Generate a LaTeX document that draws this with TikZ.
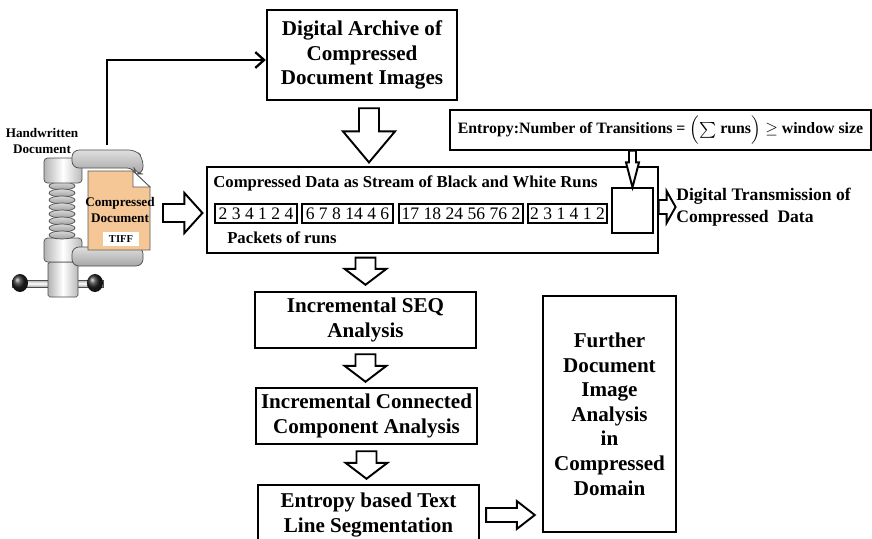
\documentclass[tikz,border=0pt]{standalone}
\usepackage{amsmath}
\usepackage{fontspec}
\setmainfont{Liberation Serif}
\usetikzlibrary{calc,arrows.meta}
\definecolor{filepeach}{HTML}{F6C796}

% hollow block arrow: start, tip, shaft half width, head half width, head length
\newcommand{\hollowarrow}[5]{%
  \coordinate (ha-base) at ($(#2)!#5!(#1)$);
  \draw[hollow] ($(#1)!#3!90:(#2)$) -- ($(ha-base)!#3!90:(#2)$)
    -- ($(ha-base)!#4!90:(#2)$) -- (#2) -- ($(ha-base)!#4!-90:(#2)$)
    -- ($(ha-base)!#3!-90:(#2)$) -- ($(#1)!#3!-90:(#2)$) -- cycle;
}

\begin{document}
\begin{tikzpicture}[x=0.02cm,y=-0.02cm,
  box/.style={draw, line width=1.4pt, align=center, inner sep=0pt,
    font=\fontsize{12}{14}\selectfont\bfseries},
  thinbox/.style={draw, line width=0.7pt, inner sep=0pt},
  packet/.style={draw, line width=0.9pt, inner sep=0pt, minimum height=0.38cm,
    font=\fontsize{10}{12}\selectfont},
  hollow/.style={draw, line width=1.1pt, fill=white, line join=miter},
  feed/.style={line width=1.3pt, -{Straight Barb[length=5pt,width=9pt]}},
  steel/.style={draw=gray!60!black, line width=0.4pt}]
  \useasboundingbox (0,0) rectangle (872,538);
  \clip (0,0) rectangle (872,538);

  % Clamp squeezing the document
  \begin{scope}
    % handle and knobs
    \shade[steel, top color=gray!70, bottom color=gray!70, middle color=white] (12,280) rectangle (103,287);
    \shade[ball color=black!85] (20,283) ellipse (0.16cm and 0.18cm);
    \shade[ball color=black!85] (95,283) ellipse (0.16cm and 0.18cm);
    % screw post and collars
    \shade[steel, rounded corners=1pt, left color=gray!60, right color=gray!55, middle color=white] (48,262) rectangle (78,297);
    \shade[steel, rounded corners=2pt, left color=gray!60, right color=gray!55, middle color=white] (44,238) rectangle (82,262);
    \foreach \y in {186,193,...,235}
      \shade[steel, top color=gray!30, bottom color=gray!75] (62,\y) ellipse (0.26cm and 0.08cm);
    \shade[steel, rounded corners=2pt, left color=gray!60, right color=gray!55, middle color=white] (44,158) rectangle (82,183);
    % jaws
    \shade[steel, rounded corners=4pt, top color=gray!25, bottom color=gray!70] (72,150) -- (136,150) -- (143,158) -- (143,174) -- (136,174) -- (134,168) -- (72,168) -- cycle;
    \shade[steel, rounded corners=4pt, top color=gray!25, bottom color=gray!70] (72,247) rectangle (143,266);
    % compressed file
    \draw[fill=filepeach, draw=gray!70!black, line width=0.5pt] (88,171) -- (133,171) -- (150,187) -- (150,250) -- (88,250) -- cycle;
    \draw[fill=white, draw=gray!70!black, line width=0.5pt] (133,171) -- (133,187) -- (150,187) -- cycle;
    \node[align=center, font=\fontsize{7.5}{9}\selectfont\bfseries] (cdoc) at (120,210) {Compressed\\Document};
    \node[fill=white, inner sep=1pt, minimum width=0.72cm, minimum height=0.28cm,
      font=\fontsize{6}{7}\selectfont\bfseries] (tiff) at (121,239) {TIFF};
  \end{scope}
  \node[align=center, font=\fontsize{7.5}{9}\selectfont\bfseries] (hw) at (42,141) {Handwritten\\Document};
  \coordinate (hwout) at (107,145);
  \coordinate (clampout) at (163,213);

  % Archive and stream of runs
  \node[box, minimum width=3.8cm, minimum height=1.8cm] (archive) at (362,55)
    {Digital Archive of\\Compressed\\Document Images};
  \node[thinbox, minimum width=9.02cm, minimum height=1.72cm] (data) at (432.5,210) {};
  \node[anchor=west, inner sep=0pt, font=\fontsize{9.5}{11}\selectfont\bfseries] (datatitle) at (213,183)
    {Compressed Data as Stream of Black and White Runs};
  \node[packet, minimum width=1.64cm] (p1) at (256,213.5) {2 3 4 1 2 4};
  \node[packet, minimum width=1.82cm] (p2) at (347.5,213.5) {6 7 8 14 4 6};
  \node[packet, minimum width=2.48cm] (p3) at (461,213.5) {17 18 24 56 76 2};
  \node[packet, minimum width=1.58cm] (p4) at (567.5,213.5) {2 3 1 4 1 2};
  \node[inner sep=0pt, font=\fontsize{9.5}{11}\selectfont\bfseries] (plabel) at (282,238) {Packets of runs};
  \node[thinbox, minimum width=0.82cm, minimum height=0.9cm] (sq) at (632.5,210.5) {};

  % Entropy rule and transmission
  \node[thinbox, minimum width=8.42cm, minimum height=0.8cm, font=\fontsize{9}{11}\selectfont\bfseries] (entropy) at (660.5,130)
    {Entropy:Number of Transitions = $\Bigl(\sum$ runs$\Bigr) \geq$ window size};
  \node[anchor=west, align=left, inner sep=0pt, font=\fontsize{10}{12.5}\selectfont\bfseries] (trans) at (676,207)
    {Digital Transmission of\\Compressed\ \ Data};

  % Analysis chain
  \node[box, minimum width=4.42cm, minimum height=1.12cm] (seq) at (365.5,320) {Incremental SEQ\\Analysis};
  \node[box, minimum width=4.42cm, minimum height=1.12cm] (cc) at (366.5,416) {Incremental Connected\\Component Analysis};
  \node[box, minimum width=4.42cm, minimum height=1.2cm] (seg) at (368.5,515) {Entropy based Text\\Line Segmentation};
  \node[box, minimum width=2.66cm, minimum height=4.72cm] (further) at (609.5,414)
    {Further\\Document\\Image\\Analysis\\in\\Compressed\\Domain};

  % Connectors
  \draw[feed] (hwout) |- ($(archive.west)+(0,5)$);

  \coordinate (a1) at ($(archive.south)+(7,7)$);
  \coordinate (a1e) at ($(a1 |- data.north)+(0,-4)$);
  \hollowarrow{a1}{a1e}{0.2cm}{0.52cm}{0.62cm}

  \coordinate (a2) at (sq.north |- entropy.south);
  \hollowarrow{a2}{sq.north}{0.07cm}{0.13cm}{0.5cm}

  \coordinate (a3) at (data.east |- trans.west);
  \coordinate (a3e) at ($(a3)+(17,0)$);
  \hollowarrow{a3}{a3e}{0.14cm}{0.32cm}{0.18cm}

  \coordinate (a4e) at ($(data.west |- clampout)+(-4,0)$);
  \hollowarrow{clampout}{a4e}{0.18cm}{0.4cm}{0.36cm}

  \coordinate (a5) at ($(data.south -| seq.north)+(0,4)$);
  \coordinate (a5e) at ($(seq.north)+(0,-6)$);
  \hollowarrow{a5}{a5e}{0.2cm}{0.42cm}{0.32cm}

  \coordinate (a6) at ($(seq.south)+(0,5)$);
  \coordinate (a6e) at ($(a6 |- cc.north)+(0,-5)$);
  \hollowarrow{a6}{a6e}{0.2cm}{0.42cm}{0.32cm}

  \coordinate (a7) at ($(cc.south)+(0,6)$);
  \coordinate (a7e) at ($(a7 |- seg.north)+(0,-5)$);
  \hollowarrow{a7}{a7e}{0.2cm}{0.42cm}{0.32cm}

  \coordinate (a8) at ($(seg.east)+(6,0)$);
  \coordinate (a8e) at ($(further.west |- seg.east)+(-7,0)$);
  \hollowarrow{a8}{a8e}{0.14cm}{0.28cm}{0.36cm}
\end{tikzpicture}
\end{document}
